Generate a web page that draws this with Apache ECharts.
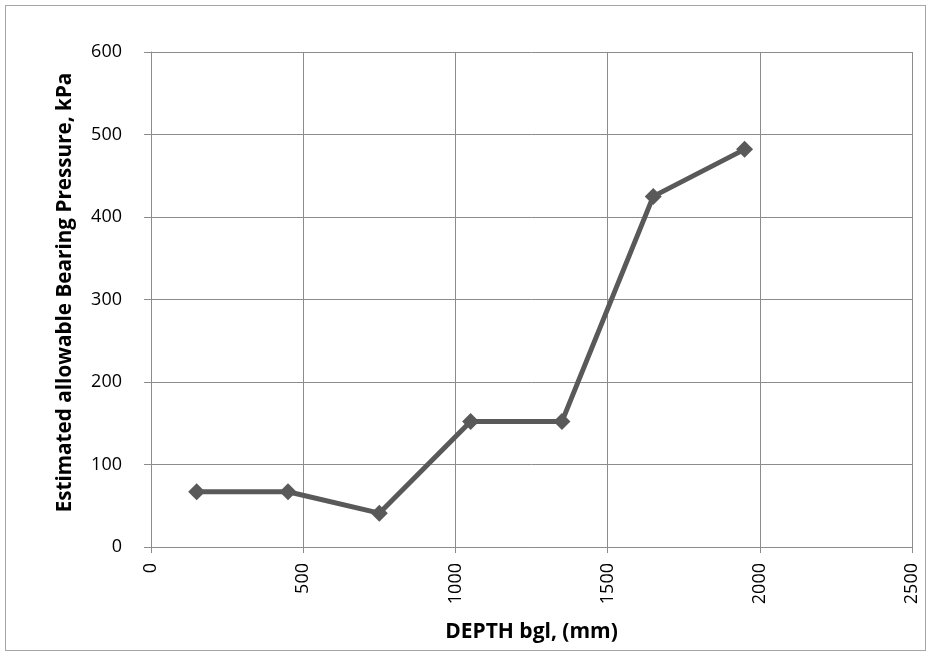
<!DOCTYPE html>
<html>
<head>
<meta charset="utf-8">
<script src="https://cdn.jsdelivr.net/npm/echarts@6/dist/echarts.min.js"></script>
<style>
  html, body { margin: 0; padding: 0; background: #fff; }
  #frame { position: absolute; left: 5px; top: 5px; width: 921px; height: 646px; border: 1px solid #a6a6a6; box-sizing: border-box; }
  #chart { width: 932px; height: 657px; }
</style>
</head>
<body>
<div id="frame"></div>
<div id="chart"></div>
<script>
// Depth below ground level (mm) and estimated allowable bearing pressure (kPa)
const depthMm = [150, 450, 750, 1050, 1350, 1650, 1950];
const pressureKPa = [67, 67, 41, 152, 152, 425, 482];
const xTitle = 'DEPTH bgl, (mm)';
const yTitle = 'Estimated allowable Bearing Pressure, kPa';

const font = '"Open Sans", "Noto Sans", sans-serif';
const gridColor = '#8c8c8c';

const chart = echarts.init(document.getElementById('chart'), null, { renderer: 'canvas' });
chart.setOption({
  backgroundColor: 'transparent',
  animation: false,
  grid: { left: 151, top: 52, right: 20, bottom: 110 },
  xAxis: {
    type: 'value', min: 0, max: 2500, interval: 500,
    name: xTitle, nameLocation: 'middle', nameGap: 75,
    nameTextStyle: { fontFamily: font, fontWeight: 'bold', fontSize: 21, color: '#000' },
    axisLine: { show: true, lineStyle: { color: gridColor, width: 1 } },
    axisTick: { show: true, length: 6, lineStyle: { color: gridColor } },
    axisLabel: { rotate: 90, margin: 16, fontFamily: font, fontSize: 18, color: '#000',
      formatter: v => String(v) },
    splitLine: { show: true, lineStyle: { color: gridColor, width: 1 } }
  },
  yAxis: {
    type: 'value', min: 0, max: 600, interval: 100,
    name: yTitle, nameLocation: 'middle', nameGap: 75, nameRotate: 90,
    nameTextStyle: { fontFamily: font, fontWeight: 'bold', fontSize: 20.7, color: '#000',
      padding: [0, 0, 0, 14] },
    axisLine: { show: true, lineStyle: { color: gridColor, width: 1 } },
    axisTick: { show: true, length: 7, lineStyle: { color: gridColor } },
    axisLabel: { margin: 29, fontFamily: font, fontSize: 18, color: '#000',
      formatter: v => String(v) },
    splitLine: { show: true, lineStyle: { color: gridColor, width: 1 } }
  },
  series: [{
    type: 'line',
    data: depthMm.map((d, i) => [d, pressureKPa[i]]),
    symbol: 'diamond', symbolSize: 17,
    lineStyle: { color: '#595959', width: 5 },
    itemStyle: { color: '#595959' }
  }]
});
</script>
</body>
</html>
